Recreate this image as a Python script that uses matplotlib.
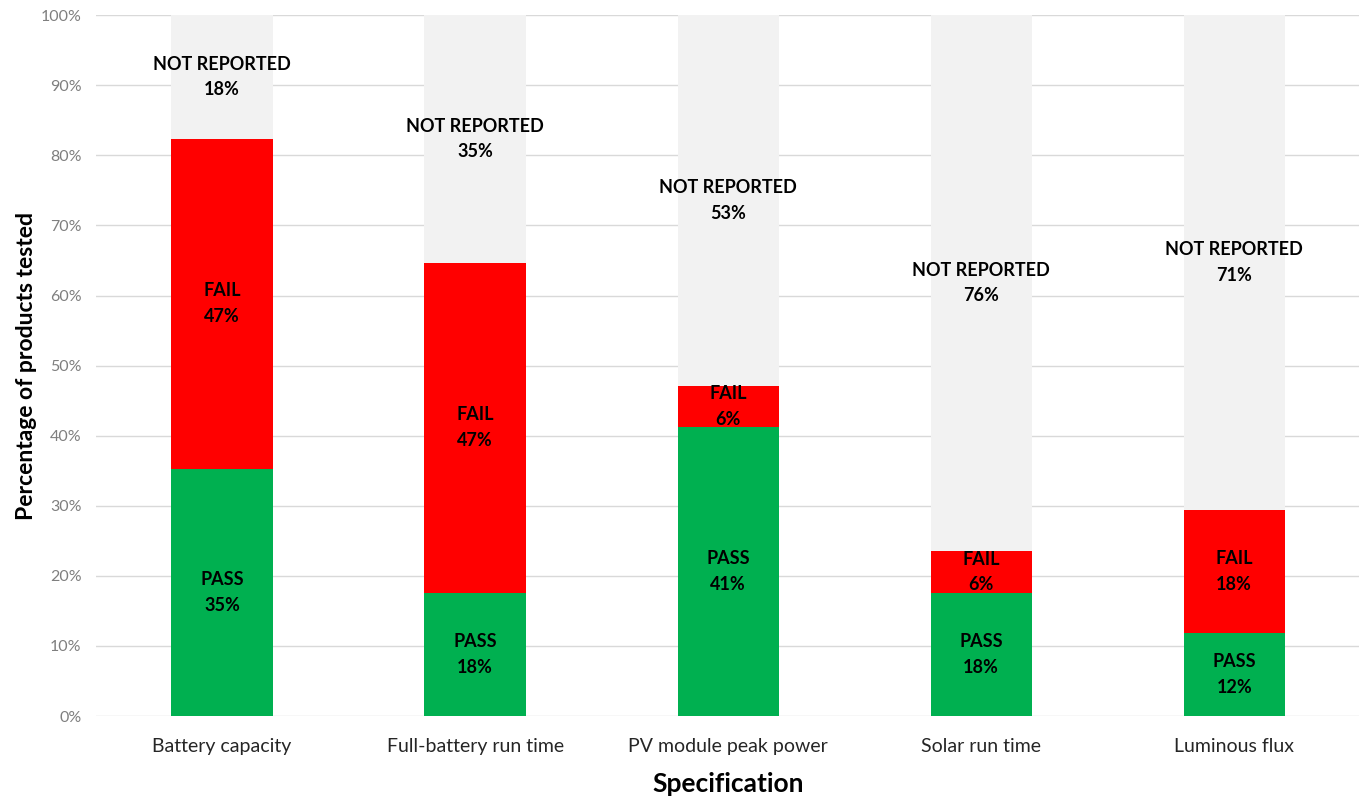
import matplotlib.pyplot as plt
import numpy as np

plt.rcParams['font.family'] = ['Lato', 'DejaVu Sans']

specs = ["Battery capacity", "Full-battery run time", "PV module peak power",
         "Solar run time", "Luminous flux"]
passed = [35.3, 17.6, 41.2, 17.6, 11.8]
failed = [47.1, 47.1, 5.9, 5.9, 17.6]
not_reported = [17.6, 35.3, 52.9, 76.5, 70.6]

fig = plt.figure(figsize=(13.59, 8), dpi=100)
ax = fig.add_axes([0.0703, 0.105, 0.931, 0.876])

x = np.arange(len(specs))
w = 0.4
p = np.array(passed)
f = np.array(failed)
n = np.array(not_reported)

ax.bar(x, p, w, color="#00B050", zorder=2)
ax.bar(x, f, w, bottom=p, color="#FF0000", zorder=2)
ax.bar(x, n, w, bottom=p + f, color="#F2F2F2", zorder=2)

for i in range(len(specs)):
    ax.text(x[i], p[i] / 2, "PASS\n%d%%" % round(p[i]), ha="center", va="center",
            fontsize=13, fontweight="bold", linespacing=1.6, zorder=3)
    ax.text(x[i], p[i] + f[i] / 2, "FAIL\n%d%%" % round(f[i]), ha="center", va="center",
            fontsize=13, fontweight="bold", linespacing=1.6, zorder=3)
    ax.text(x[i], p[i] + f[i] + n[i] / 2, "NOT REPORTED\n%d%%" % round(n[i]),
            ha="center", va="center", fontsize=13, fontweight="bold",
            linespacing=1.6, zorder=3)

ax.set_xlim(-0.5, 4.5)
ax.set_ylim(0, 100)
ax.set_yticks(range(0, 101, 10))
ax.set_yticklabels(["%d%%" % v for v in range(0, 101, 10)], color="#7F7F7F", fontsize=11.5)
ax.set_xticks(x)
ax.set_xticklabels(specs, fontsize=14, color="#262626")
ax.tick_params(axis="both", length=0)
ax.tick_params(axis="x", pad=16)
ax.tick_params(axis="y", pad=10)
ax.grid(axis="y", color="#D9D9D9", linewidth=1, zorder=0)
for s in ax.spines.values():
    s.set_visible(False)

ax.set_xlabel("Specification", fontsize=19, fontweight="bold", labelpad=12)
ax.set_ylabel("Percentage of products tested", fontsize=16.5, fontweight="bold", labelpad=3)

fig.savefig("out.png", dpi=100)
